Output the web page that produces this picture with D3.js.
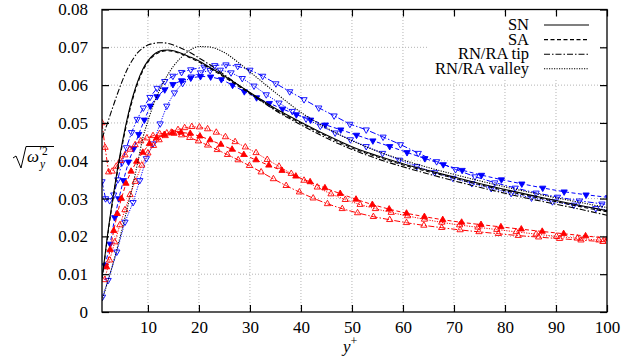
<!DOCTYPE html>
<html>
<head>
<meta charset="utf-8">
<script src="https://cdn.jsdelivr.net/npm/d3@7"></script>
<style>
  body { margin: 0; background: #fff; }
  svg text { font-family: "Liberation Serif", "DejaVu Serif", serif; }
</style>
</head>
<body>
<svg id="chart" width="632" height="364"></svg>
<script>
// ticks
const xTicks = [10, 20, 30, 40, 50, 60, 70, 80, 90, 100];
const yTicks = [0, 0.01, 0.02, 0.03, 0.04, 0.05, 0.06, 0.07, 0.08];

// black reference curves (shared y+ grid)
const lineX = [1, 1.5, 2, 3, 4, 5, 6, 7, 8, 9, 10, 11, 12, 13, 14, 15, 16, 18, 20, 22, 25, 28, 31, 35, 40, 45, 50, 55, 60, 65, 70, 75, 80, 85, 90, 95, 100];
const snY = [0.0090, 0.0140, 0.0195, 0.0290, 0.0375, 0.0450, 0.0515, 0.0568, 0.0610, 0.0642, 0.0664, 0.0679, 0.0688, 0.0692, 0.0693, 0.0691, 0.0687, 0.0676, 0.0664, 0.0648, 0.0624, 0.0598, 0.0572, 0.0538, 0.0502, 0.0468, 0.0437, 0.0413, 0.0392, 0.0374, 0.0357, 0.0340, 0.0324, 0.0309, 0.0295, 0.0281, 0.0268];
const saY = [0.0088, 0.0137, 0.0190, 0.0284, 0.0368, 0.0443, 0.0508, 0.0562, 0.0605, 0.0638, 0.0661, 0.0676, 0.0685, 0.0690, 0.0691, 0.0689, 0.0685, 0.0674, 0.0661, 0.0645, 0.0621, 0.0595, 0.0569, 0.0535, 0.0499, 0.0465, 0.0434, 0.0410, 0.0389, 0.0371, 0.0354, 0.0337, 0.0321, 0.0306, 0.0292, 0.0278, 0.0265];
const tipY = [0.0460, 0.0478, 0.0497, 0.0537, 0.0576, 0.0612, 0.0643, 0.0667, 0.0686, 0.0698, 0.0706, 0.0710, 0.0712, 0.0712, 0.0710, 0.0706, 0.0701, 0.0688, 0.0672, 0.0655, 0.0627, 0.0598, 0.0569, 0.0533, 0.0495, 0.0460, 0.0430, 0.0405, 0.0384, 0.0365, 0.0347, 0.0330, 0.0314, 0.0299, 0.0285, 0.0271, 0.0256];
const valleyY = [0.0030, 0.0052, 0.0075, 0.0120, 0.0170, 0.0222, 0.0277, 0.0333, 0.0395, 0.0460, 0.0505, 0.0545, 0.0578, 0.0606, 0.0630, 0.0650, 0.0666, 0.0690, 0.0702, 0.0701, 0.0686, 0.0657, 0.0624, 0.0580, 0.0528, 0.0487, 0.0453, 0.0425, 0.0402, 0.0382, 0.0364, 0.0347, 0.0331, 0.0316, 0.0302, 0.0289, 0.0276];

// blue (down triangles)
const blueTipX = [1, 1.7, 2.5, 3.3, 4.1, 4.9, 5.8, 6.8, 7.9, 9.1, 10.4, 11.8, 13.3, 14.9, 16.6, 18.4, 21.0, 23.1, 25.3, 27.6, 30.0, 32.5, 35.1, 37.8, 40.6, 43.5, 46.5, 49.6, 52.8, 56.1, 59.5, 63.0, 66.6, 70.3, 74.1, 78.0, 82.0, 86.1, 90.3, 94.6, 99.0, 103.5];
const blueTipY = [0.0345, 0.0300, 0.0295, 0.0310, 0.0350, 0.0395, 0.0435, 0.0475, 0.0510, 0.0540, 0.0568, 0.0592, 0.0610, 0.0624, 0.0634, 0.0641, 0.0648, 0.0652, 0.0654, 0.0650, 0.0640, 0.0624, 0.0604, 0.0583, 0.0562, 0.0540, 0.0519, 0.0497, 0.0482, 0.0463, 0.0443, 0.0420, 0.0398, 0.0377, 0.0358, 0.0342, 0.0328, 0.0315, 0.0304, 0.0294, 0.0286, 0.0279];
const blueSmoothX = [1.6, 2.6, 3.5, 4.3, 5.2, 6.2, 7.2, 8.2, 9.3, 10.5, 11.8, 13.3, 14.9, 16.6, 18.4, 20.3, 22.3, 24.4, 26.6, 28.9, 31.3, 33.8, 36.4, 39.1, 41.9, 44.8, 47.8, 50.9, 54.1, 57.4, 60.8, 64.3, 67.9, 71.6, 75.4, 79.3, 83.3, 87.4, 91.6, 95.9, 100.3];
const blueSmoothY = [0.0123, 0.0180, 0.0250, 0.0300, 0.0348, 0.0397, 0.0432, 0.0470, 0.0508, 0.0545, 0.0570, 0.0588, 0.0602, 0.0612, 0.0619, 0.0623, 0.0622, 0.0615, 0.0600, 0.0583, 0.0567, 0.0552, 0.0537, 0.0522, 0.0508, 0.0495, 0.0482, 0.0468, 0.0453, 0.0438, 0.0422, 0.0406, 0.0390, 0.0375, 0.0362, 0.0350, 0.0339, 0.0328, 0.0318, 0.0310, 0.0303];
const blueValleyX = [1.1, 2.2, 3.9, 5.5, 7.1, 8.4, 9.7, 11.0, 12.4, 13.7, 15.2, 16.8, 18.5, 20.3, 22.2, 24.2, 26.3, 28.5, 30.8, 33.2, 35.7, 38.3, 41.0, 43.8, 46.7, 49.7, 52.8, 56.0, 59.3, 62.7, 66.2, 69.8, 73.5, 77.3, 81.2, 85.2, 89.3, 93.5, 97.8, 102.2];
const blueValleyY = [0.0040, 0.0084, 0.0159, 0.0238, 0.0290, 0.0348, 0.0406, 0.0445, 0.0498, 0.0545, 0.0580, 0.0605, 0.0622, 0.0633, 0.0639, 0.0640, 0.0633, 0.0618, 0.0598, 0.0575, 0.0553, 0.0531, 0.0511, 0.0492, 0.0474, 0.0456, 0.0438, 0.0420, 0.0402, 0.0385, 0.0369, 0.0354, 0.0340, 0.0327, 0.0314, 0.0302, 0.0292, 0.0283, 0.0274, 0.0266];

// red (up triangles)
const redSmoothX = [1.9, 2.6, 3.3, 4.0, 4.8, 5.7, 6.7, 7.8, 9.0, 10.3, 11.7, 13.2, 14.8, 16.5, 18.3, 20.2, 22.2, 24.3, 26.5, 28.8, 31.2, 33.7, 36.3, 39.0, 41.8, 44.7, 47.7, 50.8, 54.0, 57.3, 60.7, 64.2, 67.8, 71.5, 75.3, 79.2, 83.2, 87.3, 91.5, 95.8, 100.2];
const redSmoothY = [0.0119, 0.0165, 0.0215, 0.0260, 0.0300, 0.0340, 0.0372, 0.0398, 0.0422, 0.0445, 0.0460, 0.0469, 0.0474, 0.0475, 0.0472, 0.0465, 0.0455, 0.0443, 0.0430, 0.0416, 0.0402, 0.0388, 0.0374, 0.0359, 0.0344, 0.0328, 0.0313, 0.0298, 0.0284, 0.0272, 0.0261, 0.0252, 0.0244, 0.0237, 0.0231, 0.0225, 0.0219, 0.0213, 0.0207, 0.0201, 0.0195];
const redValleyX = [1.5, 2.5, 3.5, 4.5, 5.5, 6.5, 7.5, 8.8, 10.0, 11.1, 12.2, 13.4, 14.6, 15.9, 17.2, 18.6, 20.1, 21.7, 23.4, 25.2, 27.1, 29.1, 31.2, 33.4, 35.7, 38.1, 40.6, 43.2, 45.9, 48.7, 51.6, 54.6, 57.7, 60.9, 64.2, 67.6, 71.1, 74.7, 78.4, 82.2, 86.1, 90.1, 94.2, 98.4, 102.7];
const redValleyY = [0.0085, 0.0137, 0.0185, 0.0230, 0.0270, 0.0310, 0.0345, 0.0388, 0.0420, 0.0440, 0.0455, 0.0466, 0.0475, 0.0482, 0.0487, 0.0490, 0.0489, 0.0484, 0.0475, 0.0463, 0.0450, 0.0436, 0.0421, 0.0403, 0.0385, 0.0366, 0.0348, 0.0330, 0.0312, 0.0297, 0.0284, 0.0273, 0.0263, 0.0254, 0.0245, 0.0237, 0.0230, 0.0224, 0.0218, 0.0212, 0.0206, 0.0200, 0.0195, 0.0190, 0.0186];
const redTipX = [1.0, 1.6, 2.3, 3.0, 3.8, 4.6, 5.5, 6.5, 7.5, 8.6, 9.8, 11.0, 12.3, 13.7, 15.1, 16.6, 18.2, 19.9, 21.7, 23.6, 25.6, 27.7, 29.9, 32.2, 34.6, 37.1, 39.7, 42.4, 45.2, 48.1, 51.1, 54.2, 57.4, 60.7, 64.1, 67.6, 71.2, 74.9, 78.7, 82.6, 86.6, 90.7, 94.9, 99.2, 103.6];
const redTipY = [0.0500, 0.0435, 0.0370, 0.0372, 0.0385, 0.0400, 0.0415, 0.0430, 0.0442, 0.0452, 0.0460, 0.0466, 0.0471, 0.0473, 0.0472, 0.0468, 0.0461, 0.0452, 0.0441, 0.0429, 0.0416, 0.0402, 0.0387, 0.0370, 0.0352, 0.0334, 0.0317, 0.0301, 0.0286, 0.0273, 0.0262, 0.0252, 0.0244, 0.0236, 0.0229, 0.0223, 0.0217, 0.0212, 0.0207, 0.0202, 0.0198, 0.0194, 0.0190, 0.0186, 0.0182];

const legendNames = ["SN", "SA", "RN/RA tip", "RN/RA valley"];

const width = 632, height = 364;
const margin = {top: 9.5, right: 25, bottom: 52, left: 102};
const svg = d3.select("#chart");
const serif = "'Liberation Serif', 'DejaVu Serif', serif";

const x = d3.scaleLinear().domain([1, 100]).range([margin.left, width - margin.right]);
const y = d3.scaleLinear().domain([0, 0.08]).range([height - margin.bottom, margin.top]);

const zip = (xs, ys) => xs.map((v, i) => [v, ys[i]]);
const dashes = {solid: null, dashed: "4,2.5", dashdot: "6,2,1.5,2", dotted: "1.2,1.3"};

// clip
svg.append("defs").append("clipPath").attr("id", "plot-clip")
    .append("rect")
    .attr("x", x(1)).attr("y", y(0.08))
    .attr("width", x(100) - x(1)).attr("height", y(0) - y(0.08));

// grid
const grid = svg.append("g")
    .attr("stroke", "#b4b4b4")
    .attr("stroke-width", 1)
    .attr("stroke-dasharray", "1,2");
grid.selectAll(".gx")
    .data(xTicks.filter(d => d < 100))
  .enter().append("line")
    .attr("x1", d => x(d)).attr("x2", d => x(d))
    .attr("y1", y(0)).attr("y2", y(0.08));
grid.selectAll(".gy")
    .data(yTicks.filter(d => d > 0 && d < 0.08))
  .enter().append("line")
    .attr("x1", x(1)).attr("x2", x(100))
    .attr("y1", d => y(d)).attr("y2", d => y(d));

// key background covers grid
svg.append("rect")
    .attr("x", 428).attr("y", 14)
    .attr("width", 172).attr("height", 66)
    .attr("fill", "white");

// black curves
const line = d3.line().x(d => x(d[0])).y(d => y(d[1])).curve(d3.curveMonotoneX);
const blackSeries = [
    {values: snY, dash: dashes.solid},
    {values: saY, dash: dashes.dashed},
    {values: tipY, dash: dashes.dashdot},
    {values: valleyY, dash: dashes.dotted}
];

const plot = svg.append("g").attr("clip-path", "url(#plot-clip)");

// coloured series with markers
const markerSeries = [
    {xs: blueTipX, ys: blueTipY, color: "#0000ff", up: false, filled: false, dash: dashes.dashdot},
    {xs: blueValleyX, ys: blueValleyY, color: "#0000ff", up: false, filled: false, dash: dashes.dotted},
    {xs: blueSmoothX, ys: blueSmoothY, color: "#0000ff", up: false, filled: true, dash: dashes.dashed},
    {xs: redTipX, ys: redTipY, color: "#ff0000", up: true, filled: false, dash: dashes.dashdot},
    {xs: redValleyX, ys: redValleyY, color: "#ff0000", up: true, filled: false, dash: dashes.dotted},
    {xs: redSmoothX, ys: redSmoothY, color: "#ff0000", up: true, filled: true, dash: dashes.dashed}
];

const plainLine = d3.line().x(d => x(d[0])).y(d => y(d[1]));
const tri = d3.symbol().type(d3.symbolTriangle).size(17);

markerSeries.forEach(s => {
    const pts = zip(s.xs, s.ys);
    plot.append("path")
        .datum(pts)
        .attr("fill", "none")
        .attr("stroke", s.color)
        .attr("stroke-width", 1)
        .attr("stroke-dasharray", s.dash)
        .attr("d", plainLine);
    plot.append("g")
        .selectAll("path")
        .data(pts)
      .enter().append("path")
        .attr("d", tri)
        .attr("transform", d => `translate(${x(d[0])},${y(d[1])}) rotate(${s.up ? 0 : 180})`)
        .attr("fill", s.filled ? s.color : "none")
        .attr("stroke", s.color)
        .attr("stroke-width", 0.9);
});

blackSeries.forEach(s => {
    plot.append("path")
        .datum(zip(lineX, s.values))
        .attr("fill", "none")
        .attr("stroke", "black")
        .attr("stroke-width", 1.1)
        .attr("stroke-dasharray", s.dash)
        .attr("d", line);
});

// axes, ticks inward on all sides
const fontSize = "17px";
const styleAxis = g => g
    .attr("font-family", serif)
    .call(g => g.select(".domain").remove())
    .call(g => g.selectAll(".tick line").attr("stroke", "black").attr("stroke-width", 1.2))
    .call(g => g.selectAll("text")
        .style("font-family", serif)
        .attr("font-size", fontSize)
        .attr("fill", "black"));

svg.append("g")
    .attr("transform", `translate(0,${y(0)})`)
    .call(d3.axisBottom(x).tickValues(xTicks).tickSizeInner(-7).tickSizeOuter(0).tickPadding(9))
    .call(styleAxis);

svg.append("g")
    .attr("transform", `translate(${x(1)},0)`)
    .call(d3.axisLeft(y).tickValues(yTicks).tickSizeInner(-7).tickSizeOuter(0).tickPadding(14)
        .tickFormat(d => d === 0 ? "0" : d3.format(".2f")(d)))
    .call(styleAxis);

svg.append("g")
    .attr("transform", `translate(0,${y(0.08)})`)
    .call(d3.axisTop(x).tickValues(xTicks).tickSizeInner(-7).tickSizeOuter(0).tickFormat(""))
    .call(styleAxis);

svg.append("g")
    .attr("transform", `translate(${x(100)},0)`)
    .call(d3.axisRight(y).tickValues(yTicks).tickSizeInner(-7).tickSizeOuter(0).tickFormat(""))
    .call(styleAxis);

svg.append("rect")
    .attr("x", x(1)).attr("y", y(0.08))
    .attr("width", x(100) - x(1)).attr("height", y(0) - y(0.08))
    .attr("fill", "none")
    .attr("stroke", "black")
    .attr("stroke-width", 1.3);

// legend
const legend = svg.append("g");
legendNames.forEach((name, i) => {
    const by = 30 + i * 14.6;
    legend.append("text")
        .attr("x", 529).attr("y", by)
        .attr("text-anchor", "end")
        .attr("font-size", "16.5px")
        .text(name);
    legend.append("line")
        .attr("x1", 544).attr("x2", 589)
        .attr("y1", by - 5).attr("y2", by - 5)
        .attr("stroke", "black")
        .attr("stroke-width", 1.1)
        .attr("stroke-dasharray", blackSeries[i].dash);
});

// y label: sqrt(omega'_y^2)
const yl = svg.append("g");
yl.append("path")
    .attr("d", "M13,158 L16,156 L21,168 L26,146.5 L54,146.5")
    .attr("fill", "none")
    .attr("stroke", "black")
    .attr("stroke-width", 1);
yl.append("text")
    .attr("x", 27).attr("y", 162)
    .attr("font-size", fontSize)
    .attr("font-style", "italic")
    .text("ω");
yl.append("text")
    .attr("x", 39.5).attr("y", 155)
    .attr("font-size", "11.5px")
    .text("′2");
yl.append("text")
    .attr("x", 40).attr("y", 168)
    .attr("font-size", "11.5px")
    .attr("font-style", "italic")
    .text("y");

// x label
const xl = svg.append("text")
    .attr("x", 343).attr("y", 352)
    .attr("font-size", fontSize);
xl.append("tspan").attr("font-style", "italic").text("y");
xl.append("tspan").attr("dy", -7).attr("font-size", "12px").text("+");
</script>
</body>
</html>
